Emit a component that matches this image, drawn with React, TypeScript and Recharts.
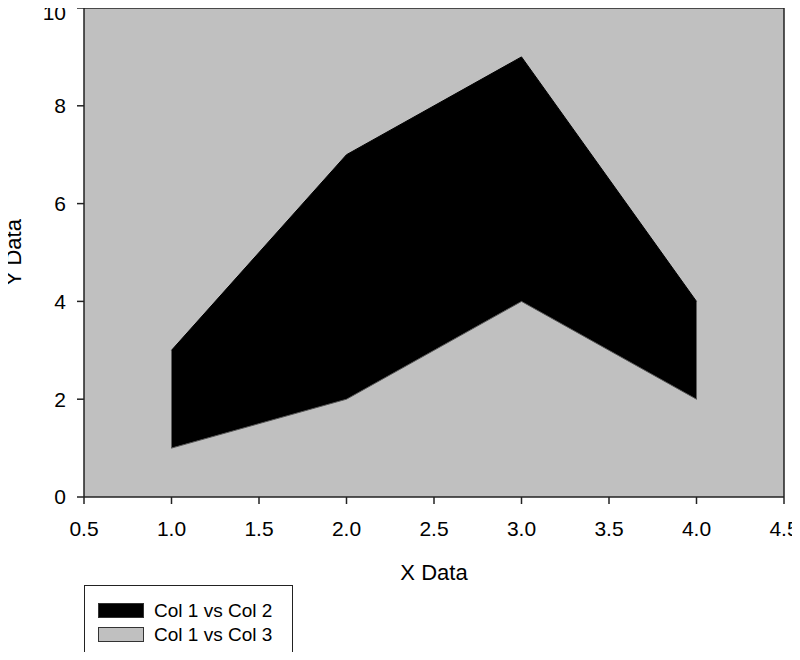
import {
  Area,
  CartesianGrid,
  ComposedChart,
  XAxis,
  YAxis,
} from "recharts";

const col1 = [1, 2, 3, 4];
const col2 = [3, 7, 9, 4];
const col3 = [1, 2, 4, 2];

const xTicks = [0.5, 1.0, 1.5, 2.0, 2.5, 3.0, 3.5, 4.0, 4.5];
const yTicks = [0, 2, 4, 6, 8, 10];

const seriesNames = ["Col 1 vs Col 2", "Col 1 vs Col 3"];
const seriesFills = ["#000000", "#C0C0C0"];

const font = "'Liberation Sans', Arial, sans-serif";
const axisColor = "#222";

// col2 is drawn as a band down to col3 so no black edge leaks under the grey area
const data = col1.map((x, i) => ({
  x,
  col2: [col3[i], col2[i]],
  col3: col3[i],
}));

const LegendBox = () => {
  return (
    <div
      style={{
        position: "absolute",
        left: 84,
        top: 585,
        width: 207,
        height: 70,
        border: `1.5px solid ${axisColor}`,
        background: "#fff",
        fontFamily: font,
        fontSize: 19,
      }}
    >
      {seriesNames.map((name, i) => (
        <div
          key={name}
          style={{
            position: "absolute",
            left: 13,
            top: 17 + i * 24,
            display: "flex",
            alignItems: "center",
            height: 15,
          }}
        >
          <span
            style={{
              display: "inline-block",
              width: 44,
              height: 13,
              background: seriesFills[i],
              border: "1px solid #333",
              marginRight: 10,
            }}
          />
          <span style={{ lineHeight: "15px", color: "#000" }}>{name}</span>
        </div>
      ))}
    </div>
  );
};

const App = () => {
  const tickStyle = { fontFamily: font, fontSize: 21, fill: "#000" };
  return (
    <div style={{ position: "relative", margin: -8, width: 800, height: 660 }}>
      <ComposedChart
        width={800}
        height={660}
        data={data}
        margin={{ top: 8, right: 16, left: 0, bottom: 63 }}
      >
        {/* grey plot background plus the top and right frame lines */}
        <CartesianGrid
          fill="#C0C0C0"
          fillOpacity={1}
          stroke={axisColor}
          strokeWidth={1.5}
          horizontalCoordinatesGenerator={({ offset }: any) => [offset.top]}
          verticalCoordinatesGenerator={({ offset }: any) => [
            offset.left + offset.width,
          ]}
        />
        <XAxis
          dataKey="x"
          type="number"
          domain={[0.5, 4.5]}
          ticks={xTicks}
          tickFormatter={(v: number) => v.toFixed(1)}
          height={100}
          tickSize={7}
          tickMargin={17}
          tick={tickStyle}
          stroke={axisColor}
          strokeWidth={1.5}
          label={{
            value: "X Data",
            position: "insideBottom",
            offset: 17,
            style: { fontFamily: font, fontSize: 22, fill: "#000" },
          }}
        />
        <YAxis
          type="number"
          domain={[0, 10]}
          ticks={yTicks}
          width={84}
          tickSize={7}
          tickMargin={11}
          tick={tickStyle}
          stroke={axisColor}
          strokeWidth={1.5}
          label={{
            value: "Y Data",
            angle: -90,
            position: "insideLeft",
            offset: 13,
            style: {
              fontFamily: font,
              fontSize: 22,
              fill: "#000",
              textAnchor: "middle",
            },
          }}
        />
        <Area
          type="linear"
          dataKey="col2"
          name={seriesNames[0]}
          fill={seriesFills[0]}
          fillOpacity={1}
          stroke="#000"
          strokeWidth={1}
          isAnimationActive={false}
        />
        <Area
          type="linear"
          dataKey="col3"
          name={seriesNames[1]}
          fill={seriesFills[1]}
          fillOpacity={1}
          stroke="#555"
          strokeWidth={1}
          isAnimationActive={false}
        />
      </ComposedChart>
      <LegendBox />
    </div>
  );
};

export default App;
